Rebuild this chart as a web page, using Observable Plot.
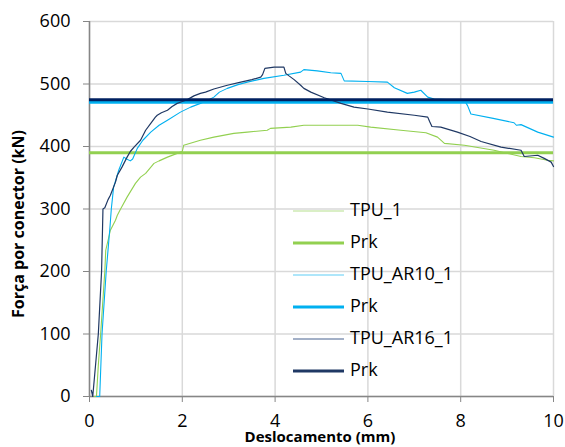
<!DOCTYPE html>
<html>
<head>
<meta charset="utf-8">
<script src="https://cdn.jsdelivr.net/npm/d3@7"></script>
<script src="https://cdn.jsdelivr.net/npm/@observablehq/plot@0.6"></script>
<style>
  html, body { margin: 0; padding: 0; background: #fff; }
  #chart svg { display: block; }
</style>
</head>
<body>
<div id="chart"></div>
<script>
// ---- data ----
const xTicks = [0, 2, 4, 6, 8, 10];
const yTicks = [0, 100, 200, 300, 400, 500, 600];
const xLabel = "Deslocamento (mm)";
const yLabel = "Força por conector (kN)";

const seriesNames = ["TPU_1", "Prk", "TPU_AR10_1", "Prk", "TPU_AR16_1", "Prk"];
const seriesColors = ["#92d050", "#92d050", "#00b0f0", "#00b0f0", "#1f3864", "#002060"];

const prkTPU1 = 390;
const prkAR10 = 471;
const prkAR16 = 475;

const tpu1 = [[0.10,0],[0.15,0],[0.19,50],[0.24,100],[0.33,200],[0.35,234],[0.45,266],[0.56,282],[0.60,290],[0.67,300],
  [0.81,319],[0.99,341],[1.10,351],[1.21,357],[1.39,373],[1.50,377],[1.68,383],[1.96,391],[2.00,392],[2.03,402],
  [2.39,410],[2.68,415],[3.11,421],[3.40,423],[3.83,426],[3.90,429],[4.34,431],[4.62,434],[5.20,434],[5.78,434],
  [6.06,431],[6.71,426],[7.25,422],[7.50,415],[7.65,405],[8.08,402],[8.72,394],[9.30,384],[9.59,382],[9.87,378],[10.0,377]];

const tpuAR10 = [[0.15,0],[0.22,0],[0.27,100],[0.36,200],[0.44,270],[0.47,300],[0.52,335],[0.63,362],[0.74,383],[0.80,380],
  [0.88,377],[0.93,380],[1.03,397],[1.15,410],[1.32,423],[1.50,434],[1.68,442],[1.96,455],[2.18,463],[2.39,469],
  [2.55,474],[2.68,479],[2.80,487],[2.97,493],[3.20,499],[3.40,503],[3.76,509],[4.19,514],[4.55,519],[4.62,523],
  [4.91,521],[5.20,518],[5.42,517],[5.49,505],[5.99,504],[6.42,503],[6.57,494],[6.85,485],[7.00,487],[7.14,490],
  [7.29,479],[7.43,476],[8.08,474],[8.15,465],[8.22,452],[8.70,445],[9.15,438],[9.20,434],[9.30,435],[9.66,423],[10.0,415]];

const tpuAR16 = [[0.04,10],[0.07,0],[0.13,50],[0.19,100],[0.26,200],[0.29,300],[0.33,302],[0.40,315],[0.45,322],[0.56,343],
  [0.60,354],[0.70,367],[0.81,383],[0.88,392],[0.96,399],[1.10,410],[1.21,426],[1.32,437],[1.42,447],[1.46,450],
  [1.55,454],[1.68,458],[1.78,464],[1.89,469],[2.00,472],[2.11,475],[2.25,481],[2.39,485],[2.50,487],[2.68,492],
  [2.97,498],[3.26,503],[3.50,507],[3.69,511],[3.73,515],[3.78,525],[3.98,527],[4.19,527],[4.23,517],[4.30,513],
  [4.41,507],[4.55,498],[4.62,493],[4.77,487],[5.06,478],[5.42,469],[5.70,463],[6.00,460],[6.42,455],[7.00,450],
  [7.29,447],[7.33,440],[7.38,432],[7.57,431],[7.93,423],[8.20,416],[8.44,408],[8.87,399],[9.30,394],[9.37,384],
  [9.66,386],[9.80,381],[9.95,375],[10.0,368]];

// ---- chart ----
const W = 565, H = 447;
const font = "'Open Sans', sans-serif";
const toObj = a => a.map(([x, y]) => ({x, y}));
const xDom = [xTicks[0], xTicks[xTicks.length - 1]];

const plot = Plot.plot({
  width: W, height: H,
  marginLeft: 89, marginRight: 12, marginTop: 21, marginBottom: 51,
  style: {fontFamily: font, background: "#fff", overflow: "visible"},
  x: {domain: xDom, ticks: xTicks},
  y: {domain: [yTicks[0], yTicks[yTicks.length - 1]], ticks: yTicks},
  marks: [
    Plot.gridX(xTicks, {stroke: "#d9d9d9", strokeOpacity: 1, strokeWidth: 1.5}),
    Plot.gridY(yTicks, {stroke: "#d9d9d9", strokeOpacity: 1, strokeWidth: 1.5}),
    Plot.axisX(xTicks, {tickSize: 6, tickPadding: 12, fontSize: 18, stroke: "#868686", fill: "#000", label: null}),
    Plot.axisY(yTicks, {tickSize: 6, tickPadding: 13, fontSize: 18, stroke: "#868686", fill: "#000", label: null}),
    Plot.ruleX([xDom[0]], {stroke: "#868686", strokeWidth: 1.5}),
    Plot.ruleY([yTicks[0]], {stroke: "#868686", strokeWidth: 1.5}),
    Plot.line(toObj(tpu1), {x: "x", y: "y", stroke: seriesColors[0], strokeWidth: 1.1}),
    Plot.ruleY([prkTPU1], {x1: xDom[0], x2: xDom[1], stroke: seriesColors[1], strokeWidth: 3}),
    Plot.line(toObj(tpuAR10), {x: "x", y: "y", stroke: seriesColors[2], strokeWidth: 1.1}),
    Plot.ruleY([prkAR10], {x1: xDom[0], x2: xDom[1], stroke: seriesColors[3], strokeWidth: 3}),
    Plot.line(toObj(tpuAR16), {x: "x", y: "y", stroke: seriesColors[4], strokeWidth: 1.2}),
    Plot.ruleY([prkAR16], {x1: xDom[0], x2: xDom[1], stroke: seriesColors[5], strokeWidth: 3})
  ]
});

document.getElementById("chart").appendChild(plot);

const svg = d3.select(plot);
// axis titles
svg.append("text")
  .attr("transform", "translate(20,224) rotate(-90)")
  .attr("text-anchor", "middle").attr("dominant-baseline", "middle")
  .attr("font-family", font).attr("font-size", 16).attr("font-weight", "bold")
  .attr("fill", "#000").text(yLabel);
svg.append("text")
  .attr("x", 320).attr("y", 442)
  .attr("text-anchor", "middle")
  .attr("font-family", font).attr("font-size", 15).attr("font-weight", "bold")
  .attr("fill", "#000").text(xLabel);

// legend
const legendWidths = [1.2, 3, 1.2, 3, 1.5, 3];
const legendColors = ["#b5e08e", "#92d050", "#5fcdf5", "#00b0f0", "#8496b4", "#1f3864"];
const lg = svg.append("g").attr("font-family", font).attr("font-size", 18).attr("text-anchor", "start");
seriesNames.forEach((name, i) => {
  const yy = 211 + i * 32;
  lg.append("line").attr("x1", 293).attr("x2", 344).attr("y1", yy).attr("y2", yy)
    .attr("stroke", legendColors[i]).attr("stroke-width", legendWidths[i]);
  lg.append("text").attr("x", 350).attr("y", yy).attr("dominant-baseline", "middle")
    .attr("text-anchor", "start").attr("fill", "#000").text(name);
});
</script>
</body>
</html>
